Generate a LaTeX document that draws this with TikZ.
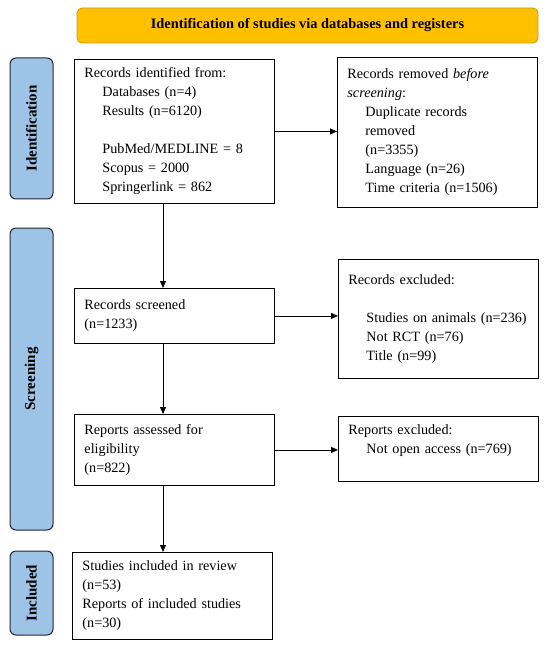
\documentclass[tikz,border=0pt]{standalone}
\usepackage{fontspec}
\setmainfont{Liberation Serif}
\definecolor{prOrange}{HTML}{FFC000}
\definecolor{prOrangeEdge}{HTML}{C99A1A}
\definecolor{prBlue}{HTML}{9DC3E6}
\definecolor{prInk}{HTML}{262630}
\usetikzlibrary{arrows.meta,positioning}

\begin{document}
\begin{tikzpicture}[x=1pt,y=-1pt,
  font=\fontsize{14.2}{19}\selectfont,
  box/.style={draw=black,line width=0.9pt,anchor=north west,align=left,inner xsep=10pt,inner ysep=0pt,minimum width=200pt,text width=180pt},
  phase/.style={draw=prInk,line width=1pt,fill=prBlue,rounded corners=6pt,rotate=90,minimum height=43pt,inner sep=0pt,font=\fontsize{15}{17}\selectfont\bfseries},
  arr/.style={-{Triangle[length=7pt,width=6pt]},line width=0.9pt}
]
\useasboundingbox (0,0) rectangle (550,652);
\def\ind{\hspace*{18pt}}

\node[draw=prOrangeEdge,fill=prOrange,rounded corners=5pt,line width=0.8pt,minimum width=461pt,minimum height=35pt,
  font=\fontsize{14.4}{16}\selectfont\bfseries] (title) at (307.5,25.5) {Identification of studies via databases and registers};

% phases down the left side
\foreach \nm/\lbl/\top/\bot in {id/Identification/58/199,scr/Screening/228/530,inc/Included/551/635}
{
  \node[phase,minimum width={(\bot-\top)*1pt}] (\nm) at (31.5,{(\top+\bot)/2}) {\lbl};
}

\node[box,minimum height=144pt] (rid) at (74,59) {Records identified from:\\ \ind Databases (n=4)\\ \ind Results (n=6120)\\[19pt]
  \ind PubMed/MEDLINE = 8\\ \ind Scopus = 2000\\ \ind Springerlink = 862};
\node[box,minimum height=150pt] (rrm) at (337,57) {Records removed \textit{before}\\ \textit{screening}:\\ \ind Duplicate records\\ \ind removed\\
  \ind (n=3355)\\ \ind Language (n=26)\\ \ind Time criteria (n=1506)};
\node[box,minimum height=55pt] (rsc) at (74,288) {Records screened\\ (n=1233)};
\node[box,minimum height=119pt] (rex) at (338,259) {Records excluded:\\[19pt] \ind Studies on animals (n=236)\\ \ind Not RCT (n=76)\\ \ind Title (n=99)};
\node[box,minimum height=71pt] (rea) at (74,414) {Reports assessed for\\ eligibility\\ (n=822)};
\node[box,minimum height=65pt] (rpx) at (338,416) {Reports excluded:\\ \ind Not open access (n=769)\\ \mbox{}};
\node[box,minimum height=87pt] (sin) at (72,552) {Studies included in review\\ (n=53)\\ Reports of included studies\\ (n=30)};

\coordinate (ax) at (163,0);
\draw[arr] (rid.south -| ax) -- (rsc.north -| ax);
\draw[arr] (rsc.south -| ax) -- (rea.north -| ax);
\draw[arr] (rea.south -| ax) -- (sin.north -| ax);
\draw[arr] (rid.east) -- (rid.east -| rrm.west);
\draw[arr] (rsc.east) -- (rsc.east -| rex.west);
\draw[arr] (rea.east) -- (rea.east -| rpx.west);
\end{tikzpicture}
\end{document}
